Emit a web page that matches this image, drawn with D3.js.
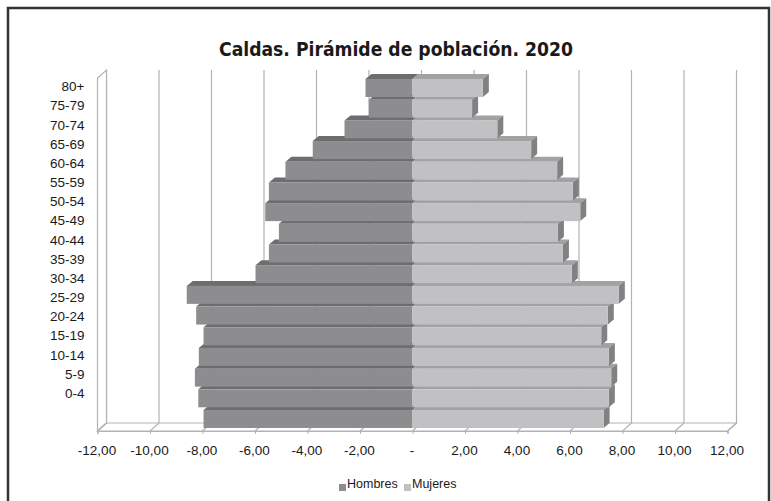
<!DOCTYPE html>
<html>
<head>
<meta charset="utf-8">
<script src="https://cdn.jsdelivr.net/npm/d3@7"></script>
<style>
  body { margin: 0; background: #fff; }
  text { font-family: "Liberation Sans", Arial, sans-serif; fill: #1a1a1a; }
</style>
</head>
<body>
<script>
// age groups, top to bottom as in the picture
const ageGroups = ["80+", "75-79", "70-74", "65-69", "60-64", "55-59", "50-54", "45-49", "40-44",
  "35-39", "30-34", "25-29", "20-24", "15-19", "10-14", "5-9", "0-4"];
// % of population
const hombres = [1.79, 1.66, 2.59, 3.80, 4.84, 5.47, 5.61, 5.09, 5.47, 5.98, 8.60, 8.24, 7.96, 8.14, 8.29, 8.16, 7.96];
const mujeres = [2.68, 2.27, 3.23, 4.52, 5.51, 6.11, 6.39, 5.54, 5.73, 6.07, 7.86, 7.44, 7.19, 7.48, 7.57, 7.48, 7.28];
const xTicks = [-12, -10, -8, -6, -4, -2, 0, 2, 4, 6, 8, 10, 12];
const seriesNames = ["Hombres", "Mujeres"];

const width = 771, height = 501;
const wall = { dx: 9, dy: -8 };   // depth of the 3D box
const deep = { dx: 6, dy: -5 };   // depth of a bar

const col = {
  grid: "#b3b3b5",
  hFront: "#8d8d8f", hTop: "#6d6d6f",
  mFront: "#c1c1c3", mTop: "#a2a2a4", mSide: "#818183"
};

const svg = d3.select("body").append("svg")
  .attr("width", width)
  .attr("height", height)
  .style("display", "block");

// frame
svg.append("rect")
  .attr("x", 8).attr("y", 8)
  .attr("width", 761).attr("height", 540)
  .attr("fill", "#fff")
  .attr("stroke", "#333").attr("stroke-width", 2.5);

svg.append("text")
  .attr("x", 396).attr("y", 56)
  .attr("text-anchor", "middle")
  .style("font-family", "'DejaVu Sans Condensed', 'DejaVu Sans', sans-serif")
  .style("font-weight", "bold")
  .style("font-size", "20px")
  .attr("textLength", 354)
  .attr("lengthAdjust", "spacingAndGlyphs")
  .text("Caldas. Pirámide de población. 2020");

const x = d3.scaleLinear().domain([-12, 12]).range([97.5, 727.5]);
const y = d3.scaleBand().domain(ageGroups).range([79, 428]).paddingInner(0.13);
const yLab = d3.scalePoint().domain(ageGroups).range([86.5, 393]);

const floorFront = 431, wallTop = 78;

// back wall gridlines
const g = svg.append("g").attr("fill", "none").attr("stroke", col.grid).attr("stroke-width", 1.2);
g.selectAll("line.grid")
  .data(xTicks)
  .join("line")
  .attr("class", "grid")
  .attr("x1", d => x(d) + wall.dx).attr("x2", d => x(d) + wall.dx)
  .attr("y1", wallTop + wall.dy).attr("y2", floorFront + wall.dy);

// left wall
g.append("path")
  .attr("fill", "#fff")
  .attr("d", d3.line()([
    [x(-12), floorFront], [x(-12), wallTop],
    [x(-12) + wall.dx, wallTop + wall.dy], [x(-12) + wall.dx, floorFront + wall.dy]
  ]) + "Z");

// floor
g.append("path")
  .attr("d", d3.line()([
    [x(-12), floorFront], [x(-12) + wall.dx, floorFront + wall.dy],
    [x(12) + wall.dx, floorFront + wall.dy], [x(12), floorFront]
  ]) + "Z");
g.selectAll("line.floor")
  .data(xTicks)
  .join("line")
  .attr("class", "floor")
  .attr("x1", d => x(d)).attr("x2", d => x(d) + wall.dx)
  .attr("y1", floorFront).attr("y2", floorFront + wall.dy);

// bars, drawn bottom row first so upper fronts hide lower tops
const rows = ageGroups.map((a, i) => ({ age: a, h: hombres[i], m: mujeres[i] })).reverse();
const bars = svg.append("g");

function topFace(x0, x1, t) {
  return d3.line()([[x0, t], [x0 + deep.dx, t + deep.dy], [x1 + deep.dx, t + deep.dy], [x1, t]]) + "Z";
}

rows.forEach(r => {
  const t = y(r.age), bw = y.bandwidth();
  const xl = x(-r.h), x0 = x(0), xr = x(r.m);
  const row = bars.append("g");
  // hombres
  row.append("path").attr("d", topFace(xl, x0, t)).attr("fill", col.hTop);
  row.append("rect").attr("x", xl).attr("y", t).attr("width", x0 - xl).attr("height", bw).attr("fill", col.hFront);
  // mujeres
  row.append("path").attr("d", topFace(x0, xr, t)).attr("fill", col.mTop);
  row.append("path")
    .attr("d", d3.line()([[xr, t], [xr + deep.dx, t + deep.dy], [xr + deep.dx, t + bw + deep.dy], [xr, t + bw]]) + "Z")
    .attr("fill", col.mSide);
  row.append("rect").attr("x", x0).attr("y", t).attr("width", xr - x0).attr("height", bw).attr("fill", col.mFront);
});

// axes
const loc = d3.formatLocale({ decimal: ",", thousands: ".", grouping: [3], currency: ["$", ""], minus: "-" });
const fmt = loc.format(".2f");

const xAxis = svg.append("g")
  .attr("transform", `translate(0,${floorFront})`)
  .call(d3.axisBottom(x).tickValues(xTicks).tickSize(3).tickPadding(11)
    .tickFormat(d => d === 0 ? "-" : fmt(d)));
xAxis.select(".domain").attr("stroke", col.grid).attr("stroke-width", 1.2);
xAxis.selectAll(".tick line").attr("stroke", col.grid);
xAxis.selectAll("text").attr("x", -1).style("font-size", "13.5px").attr("fill", "#1a1a1a");

const yAxis = svg.append("g")
  .attr("transform", "translate(86.5,0)")
  .call(d3.axisLeft(yLab).tickSize(0).tickPadding(2));
yAxis.select(".domain").remove();
yAxis.selectAll("text").style("font-size", "13.5px").attr("fill", "#1a1a1a");

// legend
const legend = svg.append("g").selectAll("g")
  .data(seriesNames)
  .join("g")
  .attr("transform", (d, i) => `translate(${i === 0 ? 339 : 404},0)`);
legend.append("rect")
  .attr("x", 0).attr("y", 484).attr("width", 7).attr("height", 7)
  .attr("fill", (d, i) => i === 0 ? col.hFront : col.mFront);
legend.append("text")
  .attr("x", 8).attr("y", 488)
  .style("font-size", "12.5px")
  .text(d => d);
</script>
</body>
</html>
